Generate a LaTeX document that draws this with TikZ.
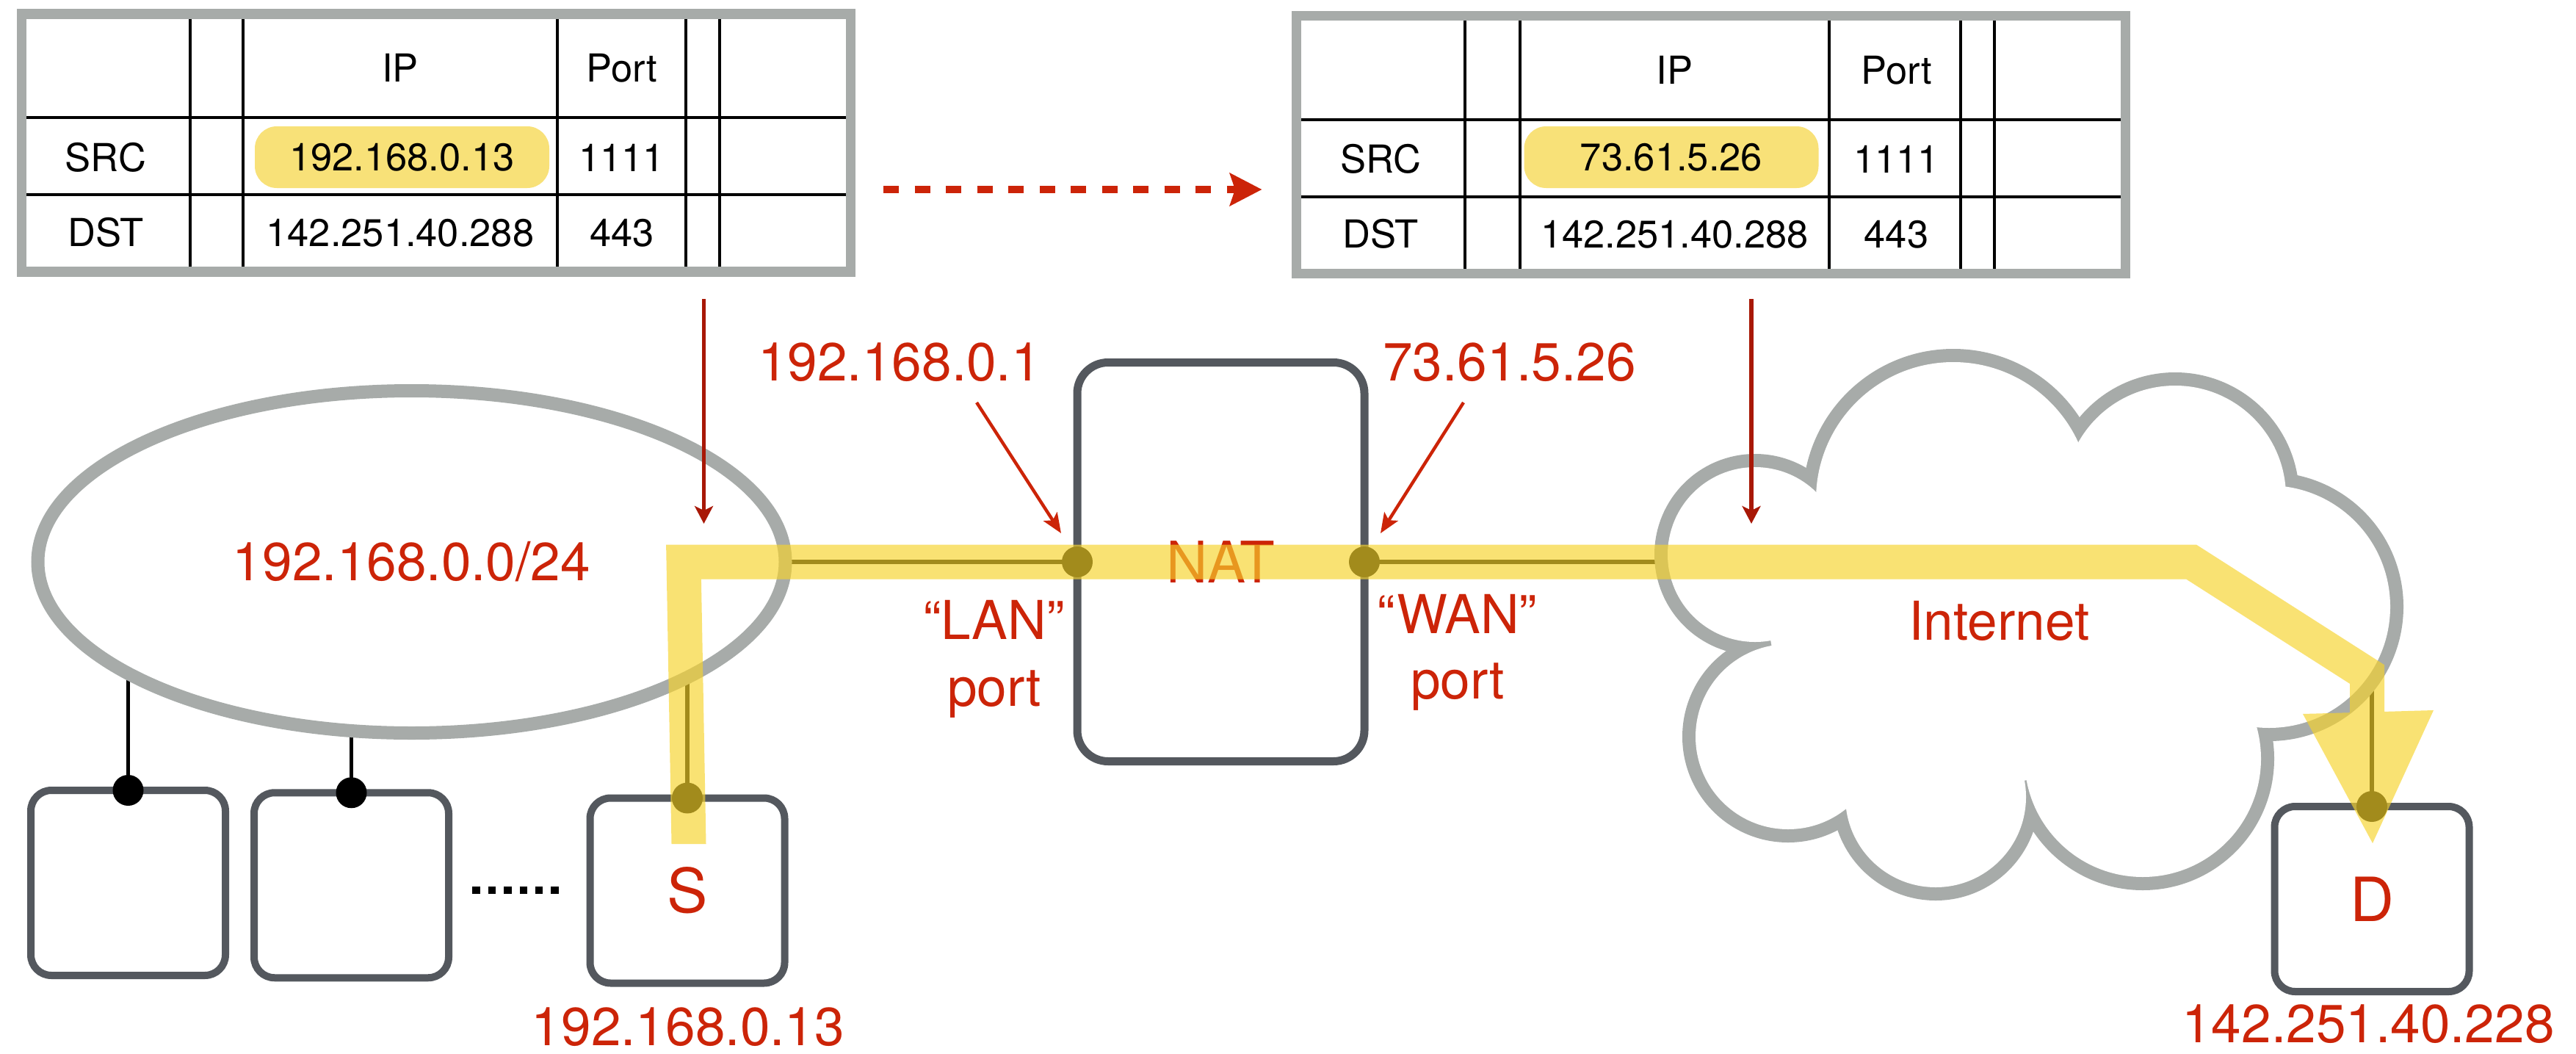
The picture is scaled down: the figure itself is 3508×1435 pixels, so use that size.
\documentclass[tikz,border=0pt]{standalone}
\usepackage{fontspec}
\setmainfont{TeX Gyre Heros}
\usetikzlibrary{arrows.meta,shapes.geometric,calc}

\definecolor{framegray}{RGB}{167,171,169}
\definecolor{boxgray}{RGB}{84,88,94}
\definecolor{lblred}{RGB}{204,36,8}
\definecolor{deepred}{RGB}{168,24,6}
\definecolor{hlyellow}{RGB}{248,225,120}
\definecolor{bandyellow}{RGB}{247,211,44}

\pgfdeclarelayer{wires}
\pgfdeclarelayer{overlay}
\pgfsetlayers{wires,main,overlay}

\begin{document}
\begin{tikzpicture}[x=0.5pt,y=-0.5pt,
  every node/.style={outer sep=0pt},
  tframe/.style={draw=framegray,line width=6.75pt},
  tline/.style={black,line width=2pt},
  tcell/.style={anchor=base,inner sep=0pt,font=\fontsize{26.25}{30}\selectfont},
  hl/.style={fill=hlyellow,rounded corners=15pt,inner sep=0pt,
    minimum width=200.5pt,minimum height=42pt,font=\fontsize{26.25}{30}\selectfont},
  host/.style={draw=boxgray,line width=5pt,fill=white,rounded corners=14pt,
    minimum width=132.5pt,minimum height=126pt,inner sep=0pt,text=lblred,
    font=\fontsize{41.5}{45}\selectfont},
  redlbl/.style={anchor=base,inner sep=0pt,text=lblred,font=\fontsize{36.5}{40}\selectfont},
  wire/.style={black,line width=2.6pt},
  ptr/.style={lblred,line width=2.2pt,-{Stealth[length=13.5pt,width=11pt,inset=3pt]}},
  drop/.style={deepred,line width=2.65pt,-{Stealth[length=12pt,width=12.5pt,inset=3pt]}},
  cloudline/.style={framegray,line width=18pt}
]
\useasboundingbox (0,0) rectangle (3508,1435);
\begin{pgfonlayer}{wires}
  \fill[white] (0,0) rectangle (3508,1435);
\end{pgfonlayer}

% ---------- packet header before translation ----------
\foreach \vx in {258.7,330.6,759.2,934.4,980.3}
  \draw[tline] (\vx,19.2) -- (\vx,370);
\draw[tline] (29.5,160) -- (1158.5,160);
\draw[tline] (29.5,265) -- (1158.5,265);
\draw[tframe] (29.5,19.2) rectangle (1158.5,370);
\node[hl] (srcipA) at (547.5,214) {192.168.0.13};
\node[tcell] (ipA)    at (544.9,111.7) {IP};
\node[tcell] (portA)  at (846.8,111.7) {Port};
\node[tcell] (srcA)   at (144,233)     {SRC};
\node[tcell] (sportA) at (846.8,233)   {1111};
\node[tcell] (dstA)   at (144,335)     {DST};
\node[tcell] (dipA)   at (544.9,335)   {142.251.40.288};
\node[tcell] (dportA) at (846.8,335)   {443};

% ---------- packet header after translation ----------
\foreach \vx in {1995,2070,2491,2670,2716}
  \draw[tline] (\vx,21.7) -- (\vx,372.5);
\draw[tline] (1765.5,163) -- (2894.5,163);
\draw[tline] (1765.5,268) -- (2894.5,268);
\draw[tframe] (1765.5,21.7) rectangle (2894.5,372.5);
\node[hl] (srcipB) at (2276,214) {73.61.5.26};
\node[tcell] (ipB)    at (2280.5,114.3) {IP};
\node[tcell] (portB)  at (2582.5,114.3) {Port};
\node[tcell] (srcB)   at (1880,235.5)   {SRC};
\node[tcell] (sportB) at (2582.5,235.5) {1111};
\node[tcell] (dstB)   at (1880,337.5)   {DST};
\node[tcell] (dipB)   at (2280.5,337.5) {142.251.40.288};
\node[tcell] (dportB) at (2582.5,337.5) {443};

% rewrite arrow between the two headers
\coordinate (rwA) at (1203,258);
\coordinate (rwB) at (1718.5,258);
\draw[lblred,line width=5.3pt,dash pattern=on 10.65pt off 10.6pt,
  -{Stealth[length=21.75pt,width=22pt,inset=3.5pt]}] (rwA) -- (rwB);

% ---------- private network ----------
\node[ellipse,draw=framegray,line width=9pt,fill=white,minimum width=509pt,
  minimum height=233pt,inner sep=0pt,text=lblred,
  font=\fontsize{36.5}{40}\selectfont] (lan) at (560.5,765) {192.168.0.0/24};

\node[host] (h1)  at (174.5,1202)   {};
\node[host] (h2)  at (478.5,1205.25) {};
\node[host] (src) at (936,1212.5)   {S};
\draw[black,line width=5.3pt,dash pattern=on 5.25pt off 5.45pt] (643.3,1212) -- (761,1212);

% ---------- NAT router ----------
\node[draw=boxgray,line width=5.5pt,fill=white,rounded corners=21pt,
  minimum width=195.5pt,minimum height=271.5pt,inner sep=0pt,text=lblred,
  font=\fontsize{39}{42}\selectfont] (nat) at (1662.5,765) {NAT};

% ---------- Internet cloud (union of lobes) ----------
\foreach \cx/\cy/\r in {2660/680/93.5,2962/676/75.5,3090/826/82.5,2918/1033/80.5,
                        2636/1085/61.5,2435/1003/63,2390/755/59.5}
  \draw[cloudline] (\cx,\cy) circle (\r pt);
\foreach \cx/\cy/\r in {2660/680/93.5,2962/676/75.5,3090/826/82.5,2918/1033/80.5,
                        2636/1085/61.5,2435/1003/63,2390/755/59.5}
  \fill[white] (\cx,\cy) circle (\r pt);
\fill[white] (2660,680) -- (2962,676) -- (3090,826) -- (2918,1033)
  -- (2636,1085) -- (2435,1003) -- (2390,755) -- cycle;
\node[redlbl] (inet) at (2722.5,871) {Internet};
\coordinate (cloudW) at (2330,765);
\coordinate (cloudS) at (3230,900);

\node[host] (dst) at (3230,1224) {D};

% ---------- attachment wires ----------
\begin{pgfonlayer}{wires}
  \draw[wire] (h1.north)  -- (h1.north |- lan.center);
  \draw[wire] (h2.north)  -- (h2.north |- lan.center);
  \draw[wire] (src.north) -- (src.north |- lan.center);
  \draw[wire] (lan.east)  -- (nat.west);
  \draw[wire] (nat.east)  -- (cloudW);
  \draw[wire] (dst.north) -- (cloudS);
\end{pgfonlayer}
\foreach \p in {h1.north,h2.north,src.north,nat.west,nat.east,dst.north}
  \fill[black] (\p) circle (10.5pt);

% ---------- labels ----------
\node[redlbl] (lanip) at (1225,518)   {192.168.0.1};
\node[redlbl] (wanip) at (2055.5,518) {73.61.5.26};
\node[redlbl] (lanq)  at (1353.5,870) {“LAN”};
\node[redlbl] (lanp)  at (1354,961.5) {port};
\node[redlbl] (wanq)  at (1984.5,862) {“WAN”};
\node[redlbl] (wanp)  at (1985,951)   {port};
\node[redlbl] (srcip) at (937,1423)   {192.168.0.13};
\node[redlbl] (dstip) at (3225,1419)  {142.251.40.228};

% pointers to the two router ports
\coordinate (lanA) at (1330,548);
\coordinate (lanB) at (1445,726);
\coordinate (wanA) at (1993,548);
\coordinate (wanB) at (1880,726);
\draw[ptr] (lanA) -- (lanB);
\draw[ptr] (wanA) -- (wanB);

% where each header is observed
\coordinate (obsA)  at (958.5,407);
\coordinate (obsA2) at (958.5,713);
\coordinate (obsB)  at (2385,407);
\coordinate (obsB2) at (2385,713);
\draw[drop] (obsA) -- (obsA2);
\draw[drop] (obsB) -- (obsB2);

% ---------- packet path ----------
\begin{pgfonlayer}{overlay}
  \fill[bandyellow,opacity=0.66]
    (914.5,1149) -- (907.1,741.5) -- (2990.9,741.5) -- (3247,905.2)
    -- (3247,968.9) -- (3314,967) -- (3231,1148) -- (3136,972)
    -- (3200,970.2) -- (3200,930.9) -- (2977.1,788.5) -- (954.9,788.5)
    -- (961.5,1149) -- cycle;
\end{pgfonlayer}
\end{tikzpicture}
\end{document}
